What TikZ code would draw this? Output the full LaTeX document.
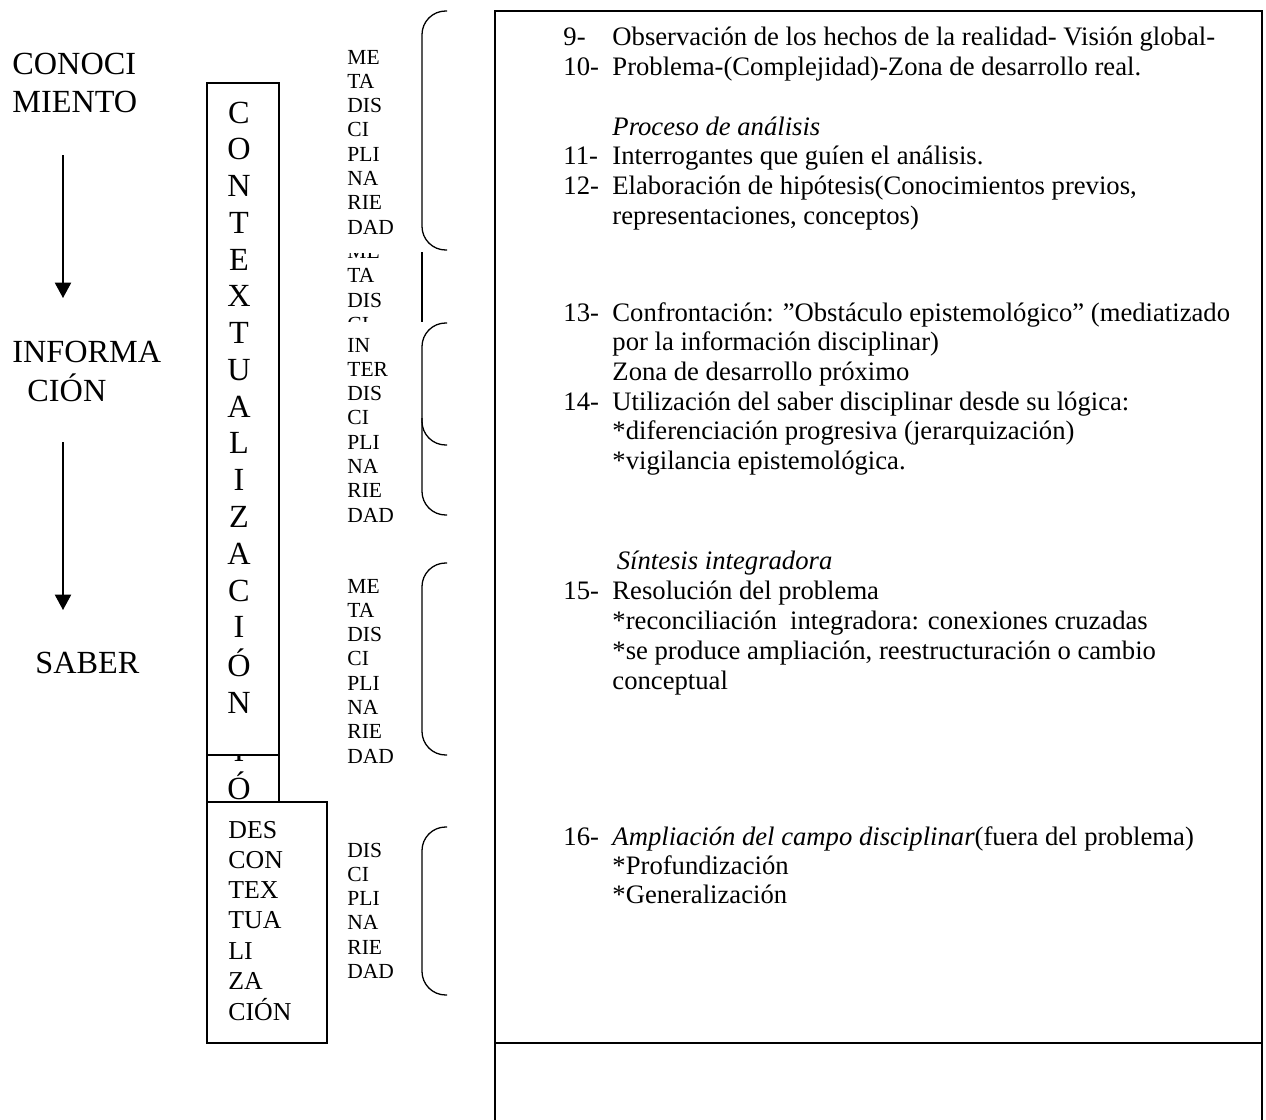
\documentclass[tikz,border=0pt]{standalone}
\usepackage{fontspec}
\setmainfont{Liberation Serif}
\usetikzlibrary{arrows.meta}
\begin{document}
\begin{tikzpicture}[x=0.465pt,y=-0.465pt,
  frame/.style={line width=0.9pt},
  brace/.style={line width=0.6pt, rounded corners=11pt},
  arr/.style={line width=0.7pt,-{Triangle[width=7.6pt,length=7.2pt]}},
  small/.style={font=\fontsize{10}{11.3}\selectfont, inner sep=0pt, anchor=base west},
  body/.style={font=\fontsize{12.4}{13.8}\selectfont, inner sep=0pt, anchor=base west},
  bodyw/.style={font=\fontsize{12.4}{14.04}\selectfont, inner sep=0pt, anchor=base west},
  bodyn/.style={font=\fontsize{12.4}{13.7}\selectfont, inner sep=0pt, anchor=base west},
  desc/.style={font=\fontsize{12}{14.1}\selectfont, inner sep=0pt, anchor=base west},
  big/.style={font=\fontsize{15}{18.1}\selectfont, inner sep=0pt, anchor=base west},
  vert/.style={font=\fontsize{15}{17.1}\selectfont, inner sep=0pt, anchor=base}]
\useasboundingbox (0,0) rectangle (1266,1120);

% left labels
\node[big] (conoc) at (12,74) {\begin{tabular}[t]{@{}l@{}}CONOCI\\MIENTO\end{tabular}};
\node[big] (inform) at (12,362) {\begin{tabular}[t]{@{}l@{}}INFORMA\\\hspace{7pt}CIÓN\end{tabular}};
\node[big] (saber) at (35,673) {SABER};
\coordinate (a1s) at (63,155);
\coordinate (a1e) at (63,298);
\coordinate (a2s) at (63,442);
\coordinate (a2e) at (63,610);
\draw[arr] (a1s) -- (a1e);
\draw[arr] (a2s) -- (a2e);

% CONTEXTUALIZACION column
\node[vert] (ctx) at (239,123) {\begin{tabular}[t]{@{}c@{}}C\\O\\N\\T\\E\\X\\T\\U\\A\\L\\I\\Z\\A\\C\\I\\Ó\\N\end{tabular}};
\draw[frame] (207,83) rectangle (279,755);
\begin{scope}
  \clip (208,756) rectangle (278,801);
  \node[vert] (ctxb) at (239,761) {\begin{tabular}[t]{@{}c@{}}I\\Ó\end{tabular}};
\end{scope}
\draw[frame] (207,755) rectangle (279,802);
\draw[frame,fill=white] (207,802) rectangle (327,1043);
\node[desc] (desc) at (228,838) {\begin{tabular}[t]{@{}l@{}}DES\\CON\\TEX\\TUA\\LI\\ZA\\CIÓN\end{tabular}};

% small stacked words
\node[small] (m1) at (347,64) {\begin{tabular}[t]{@{}l@{}}ME\\TA\\DIS\\CI\\PLI\\NA\\RIE\\DAD\end{tabular}};
\begin{scope}
  \clip (330,253) rectangle (420,321);
  \node[small] (m2) at (347,258.5) {\begin{tabular}[t]{@{}l@{}}ME\\TA\\DIS\\CI\end{tabular}};
\end{scope}
\node[small] (m3) at (347,352) {\begin{tabular}[t]{@{}l@{}}IN\\TER\\DIS\\CI\\PLI\\NA\\RIE\\DAD\end{tabular}};
\node[small] (m4) at (347,593) {\begin{tabular}[t]{@{}l@{}}ME\\TA\\DIS\\CI\\PLI\\NA\\RIE\\DAD\end{tabular}};
\node[small] (m5) at (347,857) {\begin{tabular}[t]{@{}l@{}}DIS\\CI\\PLI\\NA\\RIE\\DAD\end{tabular}};

% braces
\draw[brace] (447,11) -| (422,250) -- (447,250);
\draw[line width=0.6pt] (422,252) -- (422,322);
\draw[brace] (447,323) -| (422,515) -- (447,515);
\draw[brace] (422,418) |- (447,445);
\draw[brace] (447,563) -| (422,755) -- (447,755);
\draw[brace] (447,827) -| (422,995) -- (447,995);

% right box
\draw[frame] (495,11) rectangle (1262,1043);
\draw[frame] (495,1043) -- (495,1130);
\draw[frame] (1262,1043) -- (1262,1130);

\node[body] (g1) at (563,46) {\begin{tabular}[t]{@{}p{22.8pt}@{}l@{}}
9- & Observación de los hechos de la realidad- Visión global-\\
10- & Problema-(Complejidad)-Zona de desarrollo real.\\
 & \\
 & \textit{Proceso de análisis}\\
11- & Interrogantes que guíen el análisis.\\
12- & Elaboración de hipótesis(Conocimientos previos,\\
 & representaciones, conceptos)
\end{tabular}};
\node[body] (g2) at (563,321) {\begin{tabular}[t]{@{}p{22.8pt}@{}l@{}}
13- & Confrontación: ”Obstáculo epistemológico” (mediatizado\\
 & por la información disciplinar)\\
 & Zona de desarrollo próximo\\
14- & Utilización del saber disciplinar desde su lógica:\\
 & *diferenciación progresiva (jerarquización)\\
 & *vigilancia epistemológica.
\end{tabular}};
\node[bodyw] (g3) at (563,569) {\begin{tabular}[t]{@{}p{22.8pt}@{}l@{}}
 & \hspace{2pt}\textit{Síntesis integradora}\\
15- & Resolución del problema\\
 & *reconciliación\ \ integradora: conexiones cruzadas\\
 & *se produce ampliación, reestructuración o cambio\\
 & conceptual
\end{tabular}};
\node[bodyn] (g4) at (563,845) {\begin{tabular}[t]{@{}p{22.8pt}@{}l@{}}
16- & \textit{Ampliación del campo disciplinar}(fuera del problema)\\
 & *Profundización\\
 & *Generalización
\end{tabular}};
\end{tikzpicture}
\end{document}
